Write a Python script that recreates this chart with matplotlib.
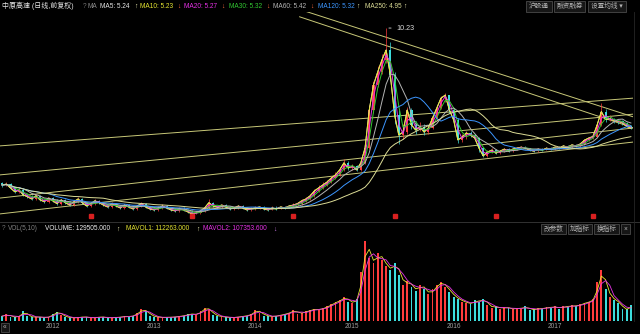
import numpy as np
import pandas as pd
import matplotlib
matplotlib.use('Agg')
import matplotlib.pyplot as plt
from matplotlib.lines import Line2D
from matplotlib.patches import Rectangle
from matplotlib.transforms import blended_transform_factory

plt.rcParams['font.family'] = ['Liberation Sans', 'Noto Sans CJK SC', 'DejaVu Sans']

# one bar = roughly two trading weeks, Aug 2011 .. Oct 2017
title = '中原高速 (日线,前复权)'
first_open = 3.62
close = [3.58, 3.60, 3.51, 3.42, 3.46, 3.35, 3.31, 3.26, 3.33, 3.24,
         3.20, 3.28, 3.22, 3.16, 3.24, 3.18, 3.13, 3.20, 3.26, 3.18,
         3.11, 3.16, 3.22, 3.18, 3.13, 3.09, 3.16, 3.11, 3.07, 3.13,
         3.09, 3.05, 3.11, 3.16, 3.09, 3.05, 3.03, 3.07, 3.11, 3.07,
         3.03, 3.01, 3.05, 3.03, 2.99, 2.95, 2.97, 3.01, 3.07, 3.18,
         3.11, 3.09, 3.13, 3.09, 3.05, 3.07, 3.11, 3.07, 3.03, 3.05,
         3.07, 3.09, 3.05, 3.03, 3.07, 3.05, 3.09, 3.07, 3.11, 3.13,
         3.16, 3.22, 3.26, 3.33, 3.44, 3.51, 3.58, 3.65, 3.75, 3.83,
         3.96, 4.15, 4.01, 4.06, 3.96, 4.15, 4.58, 5.91, 6.99, 7.62,
         8.26, 8.83, 7.47, 5.72, 5.00, 5.10, 5.91, 5.35, 5.17, 5.28,
         5.10, 5.24, 5.60, 5.99, 6.40, 6.53, 5.91, 5.53, 4.84, 4.93,
         5.07, 5.00, 4.90, 4.58, 4.35, 4.46, 4.52, 4.43, 4.49, 4.55,
         4.49, 4.55, 4.58, 4.61, 4.58, 4.52, 4.49, 4.55, 4.52, 4.58,
         4.55, 4.61, 4.58, 4.65, 4.61, 4.68, 4.65, 4.71, 4.83, 4.90,
         4.95, 5.35, 5.85, 5.55, 5.58, 5.50, 5.48, 5.42, 5.30, 5.24]
high = [3.66, 3.65, 3.62, 3.53, 3.50, 3.48, 3.38, 3.34, 3.36, 3.35,
        3.27, 3.31, 3.30, 3.25, 3.27, 3.26, 3.21, 3.23, 3.30, 3.28,
        3.20, 3.19, 3.26, 3.24, 3.20, 3.15, 3.19, 3.18, 3.13, 3.16,
        3.15, 3.11, 3.14, 3.20, 3.18, 3.12, 3.08, 3.10, 3.15, 3.13,
        3.09, 3.06, 3.08, 3.08, 3.05, 3.02, 3.00, 3.04, 3.10, 3.26,
        3.20, 3.14, 3.16, 3.15, 3.11, 3.09, 3.14, 3.13, 3.09, 3.08,
        3.10, 3.12, 3.11, 3.07, 3.10, 3.10, 3.12, 3.12, 3.14, 3.17,
        3.19, 3.26, 3.31, 3.37, 3.49, 3.57, 3.64, 3.71, 3.81, 3.90,
        4.03, 4.25, 4.20, 4.12, 4.10, 4.20, 4.75, 6.10, 7.20, 7.95,
        8.60, 10.23, 9.30, 7.60, 5.90, 5.40, 6.05, 6.00, 5.50, 5.45,
        5.40, 5.35, 5.70, 6.10, 6.50, 6.62, 6.55, 6.00, 5.60, 5.05,
        5.15, 5.12, 5.05, 4.92, 4.60, 4.52, 4.57, 4.55, 4.53, 4.60,
        4.58, 4.60, 4.62, 4.65, 4.64, 4.60, 4.55, 4.58, 4.57, 4.62,
        4.61, 4.65, 4.64, 4.68, 4.67, 4.71, 4.70, 4.74, 4.87, 4.94,
        4.99, 5.45, 6.19, 5.95, 5.70, 5.62, 5.56, 5.52, 5.45, 5.32]
low = [3.52, 3.55, 3.48, 3.39, 3.40, 3.32, 3.28, 3.23, 3.24, 3.21,
       3.17, 3.18, 3.19, 3.13, 3.14, 3.15, 3.10, 3.11, 3.18, 3.15,
       3.08, 3.09, 3.14, 3.15, 3.10, 3.06, 3.07, 3.09, 3.04, 3.05,
       3.06, 3.02, 3.03, 3.09, 3.07, 3.02, 3.00, 3.01, 3.05, 3.04,
       3.00, 2.98, 2.99, 3.00, 2.96, 2.93, 2.94, 2.95, 2.99, 3.05,
       3.08, 3.06, 3.07, 3.06, 3.02, 3.03, 3.05, 3.04, 3.00, 3.01,
       3.03, 3.05, 3.03, 3.00, 3.02, 3.03, 3.04, 3.05, 3.06, 3.09,
       3.11, 3.14, 3.20, 3.24, 3.31, 3.41, 3.49, 3.56, 3.63, 3.72,
       3.80, 3.94, 3.95, 3.97, 3.92, 3.93, 4.12, 4.55, 5.80, 6.90,
       7.50, 8.10, 7.20, 5.40, 4.70, 4.88, 5.05, 5.20, 5.05, 5.12,
       5.00, 5.05, 5.20, 5.55, 5.95, 6.25, 5.80, 5.45, 4.75, 4.78,
       4.88, 4.95, 4.85, 4.45, 4.32, 4.33, 4.44, 4.40, 4.41, 4.46,
       4.45, 4.47, 4.52, 4.55, 4.54, 4.48, 4.45, 4.47, 4.49, 4.51,
       4.52, 4.53, 4.55, 4.56, 4.58, 4.59, 4.62, 4.63, 4.68, 4.80,
       4.86, 4.92, 5.30, 5.45, 5.48, 5.42, 5.40, 5.36, 5.26, 5.20]
# average daily volume per bar, in lots
volume = [40000, 55000, 35000, 30000, 45000, 80000, 40000, 30000, 35000, 30000,
          28000, 35000, 60000, 75000, 50000, 30000, 28000, 25000, 30000, 35000,
          30000, 25000, 28000, 35000, 30000, 25000, 28000, 30000, 33000, 40000,
          35000, 45000, 70000, 95000, 80000, 45000, 35000, 30000, 28000, 32000,
          30000, 35000, 40000, 45000, 55000, 60000, 50000, 85000, 110000, 90000,
          50000, 40000, 35000, 30000, 28000, 30000, 35000, 40000, 45000, 60000,
          90000, 70000, 45000, 40000, 35000, 45000, 50000, 60000, 70000, 90000,
          60000, 70000, 80000, 90000, 100000, 90000, 110000, 120000, 140000, 160000,
          170000, 200000, 160000, 150000, 180000, 400000, 660000, 520000, 480000, 560000,
          500000, 450000, 420000, 480000, 380000, 300000, 330000, 280000, 250000, 300000,
          260000, 220000, 260000, 300000, 320000, 280000, 240000, 200000, 180000, 160000,
          150000, 140000, 170000, 160000, 180000, 130000, 110000, 120000, 100000, 115000,
          105000, 95000, 110000, 100000, 120000, 90000, 95000, 105000, 100000, 115000,
          110000, 120000, 100000, 125000, 115000, 130000, 120000, 140000, 150000, 160000,
          180000, 320000, 420000, 260000, 200000, 170000, 150000, 97535, 95021, 129505]

ma_names = ['MA5', 'MA10', 'MA20', 'MA30', 'MA60', 'MA120', 'MA250']
ma_windows = [1, 1, 2, 3, 6, 12, 25]   # in bars
ma_values = ['5.24', '5.23', '5.27', '5.32', '5.42', '5.32', '4.95']
ma_arrows = ['↑', '↓', '↓', '↓', '↓', '↑', '↑']

vol_names = ['VOLUME', 'MAVOL1', 'MAVOL2']
vol_values = ['129505.000', '112263.000', '107353.600']
vol_arrows = ['↑', '↑', '↓']
mavol_windows = [2, 3]

years = ['2012', '2013', '2014', '2015', '2016', '2017']
year_bar = [12, 36, 60, 83, 107, 131]
exright_bar = [21, 45, 69, 93, 117, 140]

# drawn trend lines: (bar0, price0, bar1, price1)
trend_lines = [(-0.5, 4.65, 149.5, 6.40),
               (-0.5, 3.83, 149.5, 5.75),
               (-0.5, 3.28, 149.5, 5.24),
               (-0.5, 2.95, 149.5, 4.77),
               (70.5, 11.03, 149.5, 5.25),
               (70.5, 11.59, 149.5, 5.65)]

RED = '#ff3c3c'
CYAN = '#3cdcdc'
ma_colors = ['#e6e6e6', '#e6e632', '#e632e6', '#32c832', '#b4b4b4', '#3c96ff', '#dcdc96']
vol_colors = ['#f0f0f0', '#e6e632', '#e632e6']
UP_ARROW = '#f0f0b4'
DOWN_ARROW = '#ff6a3c'
FS = 4.7

W, H = 640, 334
fig = plt.figure(figsize=(W / 100, H / 100), dpi=100, facecolor='black')


def fpos(px, py):
    return px / W, 1 - py / H


def label(px, py, s, color, size=FS, **kw):
    x, y = fpos(px, py)
    fig.text(x, y, s, color=color, fontsize=size, va='center', **kw)


def button(x0, x1, y0, y1, s):
    fig.add_artist(Rectangle(fpos(x0, y1), (x1 - x0) / W, (y1 - y0) / H,
                             transform=fig.transFigure, facecolor='#161616',
                             edgecolor='#4a4a4a', lw=0.6))
    label((x0 + x1) / 2, (y0 + y1) / 2, s, '#b4b4b4', 4.8, ha='center')


n = len(close)
idx = np.arange(n)
c = np.array(close)
o = np.r_[first_open, c[:-1]]
h = np.maximum(np.array(high), np.maximum(o, c))
l = np.minimum(np.array(low), np.minimum(o, c))
up = c >= o
cols = np.where(up, RED, CYAN)

# price panel
ax = fig.add_axes([0, fpos(0, 220)[1], 633 / W, 208 / H])
ax.set_facecolor('black')
ax.set_yscale('log')
ax.set_xlim(-0.5, n - 0.5)
ax.set_ylim(2.832, 11.39)
ax.set_axis_off()

for x0, p0, x1, p1 in trend_lines:
    ax.plot([x0, x1], [p0, p1], color='#c8c878', lw=0.7, zorder=1)

ax.vlines(idx, l, h, colors=cols, lw=0.5, zorder=2)
lo_b = np.minimum(o, c)
hi_b = np.maximum(o, c)
ax.bar(idx, hi_b - lo_b, bottom=lo_b, width=0.5, color=cols, linewidth=0, zorder=2)

s = pd.Series(c)
for w, col in zip(ma_windows, ma_colors):
    ax.plot(idx, s.rolling(w, min_periods=1).mean(), color=col, lw=0.7, zorder=3)

peak = int(np.argmax(h))
ax.annotate(f'{h[peak]:.2f}', xy=(peak, h[peak]), xytext=(peak + 2.5, h[peak]),
            color='#d8d8d8', fontsize=5.2, va='center',
            arrowprops=dict(arrowstyle='-', color='#d8d8d8', lw=0.6))

tr = blended_transform_factory(ax.transData, ax.transAxes)
ax.plot(exright_bar, [0.02] * len(exright_bar), 's', ms=2.3, color='#d82020',
        transform=tr, zorder=4)

# volume panel
axv = fig.add_axes([0, fpos(0, 321)[1], 633 / W, 85 / H])
axv.set_facecolor('black')
axv.set_xlim(-0.5, n - 0.5)
axv.set_ylim(0, 700000)
axv.set_axis_off()
axv.bar(idx, volume, width=0.45, color=cols, linewidth=0)
vs = pd.Series(volume, dtype=float)
for w, col in zip(mavol_windows, vol_colors[1:]):
    axv.plot(idx, vs.rolling(w, min_periods=1).mean(), color=col, lw=0.6)

trv = blended_transform_factory(axv.transData, fig.transFigure)
for b, yl in zip(year_bar, years):
    axv.text(b, fpos(0, 327)[1], yl, transform=trv, color='#a0a0a0',
             fontsize=FS, ha='center', va='center')

# frame lines
fig.add_artist(Line2D([0, 1], [fpos(0, 221.5)[1]] * 2, transform=fig.transFigure,
                      color='#3a3a3a', lw=0.6))
fig.add_artist(Line2D([fpos(633.5, 0)[0]] * 2, [fpos(0, 12)[1], fpos(0, 321)[1]],
                      transform=fig.transFigure, color='#262626', lw=0.6))

# header line
label(2, 6, title, '#e6e6e6', 5.0)
label(83, 6, '?', '#707070')
label(88, 6, 'MA', '#8c8c8c')
ma_x = [100, 140, 184, 229, 273, 318, 365]
arrow_x = [134, 177, 221, 266, 310, 356, 403]
for name, val, arr, col, tx, axx in zip(ma_names, ma_values, ma_arrows, ma_colors,
                                       ma_x, arrow_x):
    label(tx, 6, f'{name}: {val}', col)
    label(axx, 6, arr, UP_ARROW if arr == '↑' else DOWN_ARROW)

button(526, 552, 1, 12, '沪股通')
button(554, 585, 1, 12, '融资融券')
button(588, 626, 1, 12, '设置均线 ▾')

# volume header
label(2, 229, '?', '#707070')
label(8, 229, 'VOL(5,10)', '#808080')
vx = [45, 126, 203]
varr_x = [116, 196, 273]
for name, val, arr, col, tx, axx in zip(vol_names, vol_values, vol_arrows, vol_colors,
                                       vx, varr_x):
    label(tx, 229, f'{name}: {val}', col)
    label(axx, 229, arr, UP_ARROW if arr == '↑' else '#c878e6')

button(541, 566, 224, 234, '改参数')
button(568, 592, 224, 234, '加指标')
button(594, 619, 224, 234, '换指标')
button(621, 630, 224, 234, '×')

button(1, 9, 323, 332, '«')

fig.savefig('out.png', dpi=100, facecolor='black')
